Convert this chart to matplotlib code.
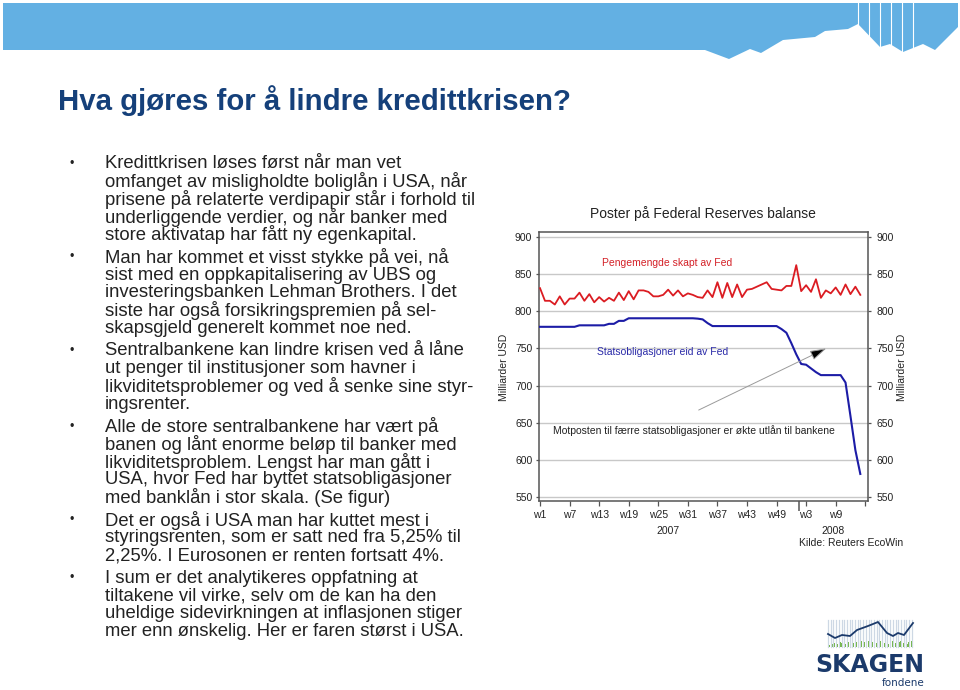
import matplotlib
matplotlib.use("Agg")
import matplotlib.pyplot as plt
import numpy as np
from matplotlib import font_manager
from matplotlib.patches import Polygon, Rectangle

plt.rcParams['font.family'] = ['Liberation Sans', 'DejaVu Sans']

# Fed balance sheet items, bn USD, one point per week from 2007 w1
red_weeks = list(range(0, 44)) + [46, 47] + list(range(49, 66))
red_values = [831, 814, 814, 809, 820, 809, 817, 817, 825, 814,
              823, 812, 819, 813, 818, 814, 825, 815, 827, 816,
              828, 828, 826, 820, 820, 822, 829, 821, 828, 820,
              824, 822, 819, 818, 828, 819, 839, 818, 838, 819,
              836, 819, 829, 830,
              839, 830,
              828, 834, 834, 862, 827, 835, 826, 843, 818, 828,
              824, 832, 822, 836, 823, 833, 822]
blue_weeks = list(range(0, 66))
blue_values = [779, 779, 779, 779, 779, 779, 779, 779,
               781, 781, 781, 781, 781, 781,
               783, 783, 787, 787,
               790.5, 790.5, 790.5, 790.5, 790.5, 790.5, 790.5,
               790.5, 790.5, 790.5, 790.5, 790.5, 790.5, 790.5,
               790, 789, 784,
               780, 780, 780, 780, 780, 780, 780,
               780, 780, 780, 780, 780, 780, 780,
               776, 771, 757, 742, 729, 728, 723, 718,
               714, 714, 714, 714, 714, 704, 659, 613, 581]

tick_weeks = [0, 6, 12, 18, 24, 30, 36, 42, 48, 54, 60, 66]
tick_labels = ['w1', 'w7', 'w13', 'w19', 'w25', 'w31', 'w37', 'w43',
               'w49', 'w3', 'w9', '']
year_break = 52.5
y_ticks = [550, 600, 650, 700, 750, 800, 850, 900]

bullets = [
    ["Kredittkrisen løses først når man vet",
     "omfanget av misligholdte boliglån i USA, når",
     "prisene på relaterte verdipapir står i forhold til",
     "underliggende verdier, og når banker med",
     "store aktivatap har fått ny egenkapital."],
    ["Man har kommet et visst stykke på vei, nå",
     "sist med en oppkapitalisering av UBS og",
     "investeringsbanken Lehman Brothers. I det",
     "siste har også forsikringspremien på sel-",
     "skapsgjeld generelt kommet noe ned."],
    ["Sentralbankene kan lindre krisen ved å låne",
     "ut penger til institusjoner som havner i",
     "likviditetsproblemer og ved å senke sine styr-",
     "ingsrenter."],
    ["Alle de store sentralbankene har vært på",
     "banen og lånt enorme beløp til banker med",
     "likviditetsproblem. Lengst har man gått i",
     "USA, hvor Fed har byttet statsobligasjoner",
     "med banklån i stor skala. (Se figur)"],
    ["Det er også i USA man har kuttet mest i",
     "styringsrenten, som er satt ned fra 5,25% til",
     "2,25%. I Eurosonen er renten fortsatt 4%."],
    ["I sum er det analytikeres oppfatning at",
     "tiltakene vil virke, selv om de kan ha den",
     "uheldige sidevirkningen at inflasjonen stiger",
     "mer enn ønskelig. Her er faren størst i USA."],
]

# header band outline (pixel coords)
band_x = [3, 705, 729, 750, 761, 783, 815, 825, 848, 858, 880, 890, 903, 923, 935, 958, 958, 3]
band_y = [50, 50, 59, 49, 53, 40, 37, 31, 29, 24, 47, 44, 52, 44, 50, 27, 3, 3]
band_stripes = [858, 869, 880, 891, 902, 913]

# logo sketch (pixel coords)
logo_line_x = [828, 835, 842, 850, 857, 868, 878, 887, 893, 898, 904, 913]
logo_line_y = [634, 638, 635, 636, 630, 626, 622, 633, 636, 633, 635, 623]
logo_bar_h = [2, 3, 4, 3, 5, 4, 3, 5, 6, 4, 5, 3, 6, 5, 4, 6, 5, 3, 4, 6,
              5, 4, 3, 5, 6, 4, 5, 6, 4, 3, 5, 6]

installed = {f.name for f in font_manager.fontManager.ttflist}
if 'Liberation Sans Narrow' in installed:
    title_family, title_size = 'Liberation Sans Narrow', 26
else:
    title_family, title_size = 'Liberation Sans', 21.2

fig = plt.figure(figsize=(9.6, 6.9), dpi=100)
bg = fig.add_axes([0, 0, 1, 1])
bg.set_xlim(0, 960)
bg.set_ylim(690, 0)
bg.axis('off')

# header
bg.add_patch(Polygon(np.column_stack([band_x, band_y]), closed=True,
                     fc='#63b0e3', ec='none'))
edge_x = band_x[:16]
edge_y = band_y[:16]
for sx in band_stripes:
    bg.plot([sx, sx], [3, np.interp(sx, edge_x, edge_y)], color='white', lw=0.8)

bg.text(58, 101, "Hva gjøres for å lindre kredittkrisen?", fontsize=title_size,
        fontweight='bold', color='#15407a', va='center', ha='left',
        family=[title_family, 'DejaVu Sans'])

# bullet text
y = 164
for para in bullets:
    bg.text(72, y, "•", fontsize=9, color='#222222', ha='center', va='center')
    for line in para:
        bg.text(105, y, line, fontsize=13.3, color='#222222', ha='left', va='center')
        y += 17.7
    y += 5

# chart
ax = fig.add_axes([539.3 / 960, 1 - 500.7 / 690, (867.7 - 539.3) / 960,
                   (500.7 - 231.7) / 690])
ax.plot(red_weeks, red_values, color='#db1c22', lw=1.3, zorder=3)
ax.plot(blue_weeks, blue_values, color='#1c1ca6', lw=1.5, zorder=3)
ax.set_xlim(-0.15, 66.5)
ax.set_ylim(545, 907)
ax.set_yticks(y_ticks)
ax.set_xticks(tick_weeks, tick_labels)
ax.set_xticks([year_break], minor=True)
ax.grid(axis='y', color='#c8c8c8', lw=1.0)
ax.set_axisbelow(True)
for s in ax.spines.values():
    s.set_color('#555555')
    s.set_linewidth(1.1)
ax.tick_params(axis='y', direction='out', length=2.5, width=0.9, color='#555555',
               labelcolor='#222222', labelsize=7.5, pad=2.5)
ax.tick_params(axis='x', which='major', direction='out', length=3.5, width=0.9,
               color='#555555', labelcolor='#222222', labelsize=7.5, pad=3)
ax.tick_params(axis='x', which='minor', direction='out', length=7, width=1.1,
               color='#555555')

ax2 = ax.twinx()
ax2.set_ylim(545, 907)
ax2.set_yticks(y_ticks)
for s in ax2.spines.values():
    s.set_visible(False)
ax2.tick_params(axis='y', direction='out', length=2.5, width=0.9, color='#555555',
                labelcolor='#222222', labelsize=7.5, pad=4)

ax.text(12.65, 865, "Pengemengde skapt av Fed", color='#d42027', fontsize=7.5,
        ha='left', va='center')
ax.text(11.6, 745.5, "Statsobligasjoner eid av Fed", color='#2a2aa8', fontsize=7.5,
        ha='left', va='center')
ax.text(2.7, 640, "Motposten til færre statsobligasjoner er økte utlån til bankene",
        color='#222222', fontsize=7.5, ha='left', va='center')
ax.annotate('', xy=(58.1, 750), xytext=(32.2, 667),
            arrowprops=dict(arrowstyle='-|>,head_length=1.0,head_width=0.3',
                            fc='black', ec='#9a9a9a', lw=0.7, shrinkA=0, shrinkB=0))

bg.text(703, 214, "Poster på Federal Reserves balanse", fontsize=10,
        color='#222222', ha='center', va='center')
bg.text(504, 367, "Milliarder USD", rotation=90, fontsize=7.5, color='#222222',
        ha='center', va='center')
bg.text(902, 367, "Milliarder USD", rotation=90, fontsize=7.5, color='#222222',
        ha='center', va='center')
bg.text(668, 531, "2007", fontsize=7.5, color='#222222', ha='center', va='center')
bg.text(833, 531, "2008", fontsize=7.5, color='#222222', ha='center', va='center')
bg.text(903, 543, "Kilde: Reuters EcoWin", fontsize=7.5, color='#222222',
        ha='right', va='center')

# logo
for sx in np.arange(828, 914, 2.7):
    bg.plot([sx, sx], [620, 647], color='#cdd8e4', lw=0.9)
bar_x = np.linspace(829, 912, len(logo_bar_h))
for bx, bh in zip(bar_x, logo_bar_h):
    bg.add_patch(Rectangle((bx - 0.9, 647 - bh), 1.8, bh, fc='#6cb33f', ec='none'))
bg.plot(logo_line_x, logo_line_y, color='#1b3a6b', lw=1.3)
bg.text(870, 665, "SKAGEN", fontsize=17, fontweight='bold', color='#1b3a6b',
        ha='center', va='center', family=['DejaVu Sans'])
bg.text(925, 683, "fondene", fontsize=7.5, color='#1b3a6b', ha='right',
        va='center', family=['DejaVu Sans'])

fig.savefig("out.png", dpi=100)
